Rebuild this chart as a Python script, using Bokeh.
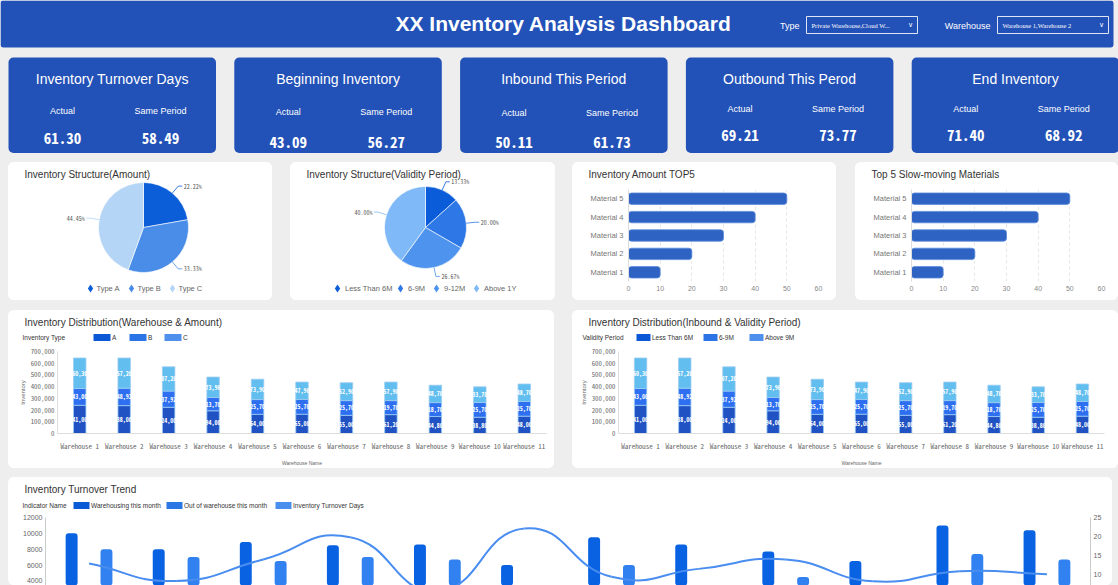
import numpy as np
from bokeh.plotting import figure
from bokeh.layouts import row, column
from bokeh.models import (Range1d, FactorRange, LinearAxis, FixedTicker, Plot,
                          NumeralTickFormatter, Spacer, ColumnDataSource)
from bokeh.core.properties import value
from bokeh.embed import file_html
from bokeh.resources import INLINE

# ---------------- data ----------------
dashboard_title = "XX Inventory Analysis Dashboard"
filter_labels = ["Type", "Warehouse"]
filter_values = ["Private Warehouse,Cloud W...", "Warehouse 1,Warehouse 2"]

kpi_titles = ["Inventory Turnover Days", "Beginning Inventory", "Inbound This Period",
              "Outbound This Perod", "End Inventory"]
kpi_actual = [61.30, 43.09, 50.11, 69.21, 71.40]
kpi_same = [58.49, 56.27, 61.73, 73.77, 68.92]

amount_types = ["Type A", "Type B", "Type C"]
amount_share = [22.22, 33.33, 44.45]
validity_types = ["Less Than 6M", "6-9M", "9-12M", "Above 1Y"]
validity_share = [13.33, 20.00, 26.67, 40.00]

materials = ["Material 1", "Material 2", "Material 3", "Material 4", "Material 5"]
top5_amount = [10, 20, 30, 40, 50]
slow_moving = [10, 20, 30, 40, 50]
material_ticks = [0, 10, 20, 30, 40, 50, 60]

warehouses = ["Warehouse 1", "Warehouse 2", "Warehouse 3", "Warehouse 4", "Warehouse 5",
              "Warehouse 6", "Warehouse 7", "Warehouse 8", "Warehouse 9", "Warehouse 10",
              "Warehouse 11"]
amount_a = [241000, 238000, 224000, 194000, 164000, 165000, 155000, 161200, 144800, 138800, 148000]
amount_b = [143000, 148920, 137920, 113700, 125700, 125700, 125700, 119700, 118700, 125700, 125700]
amount_c = [260300, 257200, 207200, 173900, 173900, 147900, 152900, 157900, 148700, 133700, 148700]
amount_types_short = ["A", "B", "C"]
validity_lt6 = [241000, 238000, 224000, 194000, 164000, 165000, 155000, 161200, 144800, 138800, 148000]
validity_6_9 = [143000, 148920, 137920, 113700, 125700, 125700, 125700, 119700, 118700, 125700, 125700]
validity_gt9 = [260300, 257200, 207200, 173900, 173900, 147900, 152900, 157900, 148700, 133700, 148700]
validity_bands = ["Less Than 6M", "6-9M", "Above 9M"]
inventory_ticks = [0, 100000, 200000, 300000, 400000, 500000, 600000, 700000]

months = ["Jan", "Feb", "Mar", "Apr", "May", "Jun", "Jul", "Aug", "Sep", "Oct", "Nov", "Dec"]
indicator_names = ["Warehousing this month", "Out of warehouse this month", "Inventory Turnover Days"]
inbound_month = [10000, 8000, 8900, 8500, 8600, 6000, 9500, 8600, 7700, 6500, 11000, 10400]
outbound_month = [8000, 7000, 6500, 7000, 6700, 3000, 6000, 3200, 4500, 2800, 7400, 6700]
turnover_days = [12.8, 8.2, 13.9, 19.8, 5.5, 22.1, 9.3, 11.4, 13.9, 8.1, 10.8, 10.0]
qty_ticks = [0, 2000, 4000, 6000, 8000, 10000, 12000]
days_ticks = [0, 5, 10, 15, 20, 25]

# ---------------- style ----------------
BG = "#EEEEEE"
BLUE = "#2251B7"
SANS = "Liberation Sans"
MONO = "'Noto Sans Mono CJK SC', 'Liberation Mono', monospace"
TITLE_C = "#333333"
AXIS_C = "#666666"
PANEL_STYLE = {"border-radius": "6px", "overflow": "hidden", "background-color": "white"}
NO_ALIGN = {"frame_align": False} if "frame_align" in Plot.properties() else {}


def base_fig(w, h, **kw):
    opts = dict(width=w, height=h, toolbar_location=None, output_backend="svg",
                background_fill_color="white", border_fill_color="white",
                outline_line_color=None)
    opts.update(NO_ALIGN)
    opts.update(kw)
    return figure(**opts)


def pixel_fig(w, h, bg="white"):
    """Figure whose data units are its own pixels, y measured from the top."""
    p = base_fig(w, h, x_range=Range1d(0, w), y_range=Range1d(h, 0), min_border=0,
                 x_axis_location=None, y_axis_location=None,
                 background_fill_color=bg, border_fill_color=bg)
    p.xgrid.visible = False
    p.ygrid.visible = False
    return p


def put_text(p, x, y, texts, size, color=TITLE_C, align="left", font=SANS, style="normal"):
    p.text(x=x, y=y, text=texts, text_font=value(font), text_font_size=size,
           text_color=color, text_align=align, text_baseline="middle", text_font_style=style)


def legend_row(p, y, sw_left, sw_w, colors, labels, label_size="6.5px"):
    sw_left = np.asarray(sw_left, float)
    p.quad(left=sw_left, right=sw_left + sw_w, top=y - 3.5, bottom=y + 3.5,
           fill_color=colors, line_color=None)
    put_text(p, sw_left + sw_w + 1.5, [y] * len(labels), labels, label_size)


# ---------------- header + KPI cards ----------------
top = pixel_fig(1118, 162, bg=BG)
top.quad(left=[0], right=[1113], top=[0], bottom=[47], fill_color=BLUE, line_color=None,
         border_radius=3)
put_text(top, [563], [23], [dashboard_title], "21px", "white", "center", style="bold")

box_left = np.array([806.0, 997.0])
box_w = 111
put_text(top, box_left - 7, [25, 25], filter_labels, "9px", "white", "right")
top.quad(left=box_left, right=box_left + box_w, top=[16, 16], bottom=[33, 33],
         fill_color=None, line_color="white", line_alpha=0.85, line_width=1)
put_text(top, box_left + 5, [24.5, 24.5], filter_values, "6.5px", "white", "left",
         font="Liberation Serif")
put_text(top, box_left + 104, [24, 24], ["\u2228", "\u2228"], "7px", "white", "center",
         font="DejaVu Sans")

card_left = 8 + np.arange(len(kpi_titles)) * 225.8
card_w = 207.5
label_y = [110, 111, 112, 108, 108]
value_y = [137, 141, 141.5, 134, 134]
top.quad(left=card_left, right=card_left + card_w, top=57, bottom=152.5,
         fill_color=BLUE, line_color=None, border_radius=5)
put_text(top, card_left + card_w / 2, [78.5] * 5, kpi_titles, "14px", "white", "center")
put_text(top, np.concatenate([card_left + 54, card_left + 152]), label_y + label_y,
         ["Actual"] * 5 + ["Same Period"] * 5, "9px", "white", "center")
put_text(top, np.concatenate([card_left + 54, card_left + 152]), value_y + value_y,
         [f"{v:.2f}" for v in kpi_actual] + [f"{v:.2f}" for v in kpi_same],
         "15px", "white", "center", font=MONO, style="bold")


# ---------------- pies ----------------
def pie_panel(w, title, names, shares, colors, cx, cy, r, marker_x, text_dx):
    h = 138
    p = base_fig(w, h, x_range=Range1d(0, w), y_range=Range1d(0, h), min_border=0,
                 x_axis_location=None, y_axis_location=None)
    p.xgrid.visible = False
    p.ygrid.visible = False
    frac = np.asarray(shares, float) / np.sum(shares)
    cum = np.concatenate([[0.0], np.cumsum(frac)])
    start = np.pi / 2 - 2 * np.pi * cum[:-1]
    end = np.pi / 2 - 2 * np.pi * cum[1:]
    src = ColumnDataSource(dict(name=names, share=shares, start=start, end=end, color=colors))
    p.wedge(x=cx, y=cy, radius=r, start_angle="start", end_angle="end", direction="clock",
            fill_color="color", line_color="white", line_width=0.6, source=src)
    mid = (start + end) / 2
    c, s = np.cos(mid), np.sin(mid)
    side = np.where(c >= 0, 1.0, -1.0)
    ex = cx + (r + 9) * c
    ey = cy + (r + 9) * s
    xs = [[cx + r * ci, exi, exi + 4 * sd] for ci, exi, sd in zip(c, ex, side)]
    ys = [[cy + r * si, eyi, eyi] for si, eyi in zip(s, ey)]
    p.multi_line(xs=xs, ys=ys, line_color=colors, line_width=0.8)
    tsrc = ColumnDataSource(dict(x=ex + 5.5 * side, y=ey, t=[f"{v:.2f}%" for v in shares],
                                 a=["left" if sd > 0 else "right" for sd in side]))
    p.text(x="x", y="y", text="t", text_align="a", text_baseline="middle", source=tsrc,
           text_font=value(MONO), text_font_size="6px", text_color="#555555")
    put_text(p, [16], [h - 12], [title], "10px")
    mx = np.asarray(marker_x, float)
    p.scatter(x=mx, y=[12] * len(names), marker="diamond", size=8, fill_color=colors,
              line_color=None)
    put_text(p, mx + text_dx, [12] * len(names), names, "7.5px", "#666666")
    return column(p, styles=PANEL_STYLE)


pie1 = pie_panel(264, "Inventory Structure(Amount)", amount_types, amount_share,
                 ["#0B5DD8", "#4A8DE8", "#B4D5F6"], 135, 73, 45, [82, 123, 164], 6)
pie2 = pie_panel(265, "Inventory Structure(Validity Period)", validity_types, validity_share,
                 ["#0A5CD8", "#2D78E6", "#4E93EE", "#80B9F7"], 135, 73, 41,
                 [47, 110, 146, 186], 7.5)


# ---------------- horizontal bar panels ----------------
def hbar_panel(w, title, vals, left_b, right_b):
    hdr = pixel_fig(w, 20)
    put_text(hdr, [16], [12], [title], "10px")
    p = base_fig(w, 118, y_range=FactorRange(*materials), x_range=Range1d(0, 60),
                 min_border_left=left_b, min_border_right=right_b, min_border_top=7,
                 min_border_bottom=19)
    p.hbar(y=materials, left=0, right=vals, height=0.62, fill_color="#2E63C3",
           line_color="#5A8ADA", line_width=0.8, border_radius=3)
    p.xaxis.ticker = FixedTicker(ticks=material_ticks)
    p.xaxis.axis_line_color = None
    p.xaxis.major_tick_line_color = None
    p.xaxis.minor_tick_line_color = None
    p.xaxis.major_tick_out = 0
    p.xaxis.major_label_standoff = 4
    p.xaxis.major_label_text_font_size = "7px"
    p.xaxis.major_label_text_color = "#888888"
    p.xaxis.major_label_text_font = SANS
    p.yaxis.axis_line_color = "#DDDDDD"
    p.yaxis.major_tick_line_color = None
    p.yaxis.major_tick_out = 0
    p.yaxis.major_label_standoff = 5
    p.yaxis.major_label_text_font_size = "7.5px"
    p.yaxis.major_label_text_color = "#777777"
    p.yaxis.major_label_text_font = SANS
    p.xgrid.grid_line_color = "#E6E6E6"
    p.xgrid.grid_line_dash = "3 3"
    p.ygrid.grid_line_color = None
    return column(hdr, p, styles=PANEL_STYLE)


bar1 = hbar_panel(264, "Inventory Amount TOP5", top5_amount, 56, 18)
bar2 = hbar_panel(263, "Top 5 Slow-moving Materials", slow_moving, 56, 17)

# ---------------- stacked panels ----------------
stack_colors = ["#2152C4", "#2D6FF0", "#62BEEE"]
legend_colors = ["#0B58D6", "#2A74E6", "#4E90EC"]


def stacked_panel(w, title, legend_title, names, series, left_b, right_b,
                  title_x, lt_x, sw_left, sw_w):
    hdr = pixel_fig(w, 33)
    put_text(hdr, [title_x], [12], [title], "10px")
    put_text(hdr, [lt_x], [27], [legend_title], "6.5px")
    legend_row(hdr, 27, sw_left, sw_w, legend_colors, names)

    p = base_fig(w, 125, x_range=FactorRange(*warehouses), y_range=Range1d(0, 700000),
                 min_border_left=left_b, min_border_right=right_b, min_border_top=8,
                 min_border_bottom=33)
    keys = ["s0", "s1", "s2"]
    data = {"wh": warehouses}
    for k, srs in zip(keys, series):
        data[k] = srs
    src = ColumnDataSource(data)
    p.vbar_stack(keys, x="wh", width=0.28, fill_color=stack_colors,
                 line_color="#9ACBF3", line_width=0.8, source=src)
    base = np.zeros(len(warehouses))
    for srs in series:
        arr = np.asarray(srs, float)
        p.text(x=warehouses, y=base + arr / 2, text=[f"{v:,.0f}" for v in arr],
               text_font=value(MONO), text_font_size="6px", text_font_style="bold",
               text_color="white", text_align="center", text_baseline="middle")
        base = base + arr
    p.yaxis.ticker = FixedTicker(ticks=inventory_ticks)
    p.yaxis.formatter = NumeralTickFormatter(format="0,0")
    p.yaxis.axis_label = "Inventory"
    p.yaxis.axis_label_text_font_size = "6px"
    p.yaxis.axis_label_text_font_style = "normal"
    p.yaxis.axis_label_text_color = AXIS_C
    p.yaxis.axis_label_standoff = 2
    p.yaxis.major_label_text_font = MONO
    p.yaxis.major_label_text_font_size = "6.8px"
    p.yaxis.major_label_text_color = AXIS_C
    p.yaxis.major_label_standoff = 3
    p.yaxis.axis_line_color = "#DDDDDD"
    p.yaxis.major_tick_line_color = None
    p.yaxis.minor_tick_line_color = None
    p.yaxis.major_tick_out = 0
    p.xaxis.axis_label = "Warehouse Name"
    p.xaxis.axis_label_text_font_size = "5px"
    p.xaxis.axis_label_text_font_style = "normal"
    p.xaxis.axis_label_text_color = AXIS_C
    p.xaxis.axis_label_standoff = 6
    p.xaxis.major_label_text_font = MONO
    p.xaxis.major_label_text_font_size = "7px"
    p.xaxis.major_label_text_color = AXIS_C
    p.xaxis.major_label_standoff = 7
    p.xaxis.axis_line_color = "#DDDDDD"
    p.xaxis.major_tick_line_color = None
    p.xaxis.major_tick_out = 0
    p.xgrid.grid_line_color = None
    p.ygrid.grid_line_color = None
    return column(hdr, p, styles=PANEL_STYLE)


stack1 = stacked_panel(546, "Inventory Distribution(Warehouse & Amount)", "Inventory Type",
                       amount_types_short, [amount_a, amount_b, amount_c], 49, 8,
                       16, 14, [85, 121, 156], 17)
stack2 = stacked_panel(546, "Inventory Distribution(Inbound & Validity Period)", "Validity Period",
                       validity_bands, [validity_lt6, validity_6_9, validity_gt9], 46, 14,
                       16, 10, [64, 131, 177], 14)

# ---------------- turnover trend ----------------
n = len(months)
idx = np.arange(n, dtype=float)
trend_hdr = pixel_fig(1104, 34)
put_text(trend_hdr, [16], [12], ["Inventory Turnover Trend"], "10px")
put_text(trend_hdr, [14], [28], ["Indicator Name"], "6.5px")
legend_row(trend_hdr, 28, [65, 158, 267], 16, ["#0A5CD6", "#2B78E4", "#4A8FEE"], indicator_names)

trend = base_fig(1104, 74, x_range=Range1d(-0.5, n - 0.5), y_range=Range1d(3418, 12000),
                 min_border_left=37, min_border_right=22, min_border_top=6, min_border_bottom=0,
                 x_axis_location=None)
trend.extra_y_ranges = {"days": Range1d(7.0, 25.0)}
trend.vbar(x=idx - 0.2, bottom=0, top=inbound_month, width=0.137,
           fill_color="#0862E2", line_color=None, border_radius=3)
trend.vbar(x=idx + 0.2, bottom=0, top=outbound_month, width=0.137,
           fill_color="#3182F0", line_color=None, border_radius=3)

d = np.asarray(turnover_days, float)
prev_d = np.concatenate([[d[0]], d[:-1]])
next_d = np.concatenate([d[1:], [d[-1]]])
prev_x = np.concatenate([[idx[0]], idx[:-1]])
next_x = np.concatenate([idx[1:], [idx[-1]]])
wgt = np.where((idx == 0) | (idx == n - 1), 0.5, 0.25)
tx = (next_x - prev_x) * wgt
ty = (next_d - prev_d) * wgt
trend.bezier(x0=idx[:-1], y0=d[:-1], x1=idx[1:], y1=d[1:],
             cx0=idx[:-1] + tx[:-1], cy0=d[:-1] + ty[:-1],
             cx1=idx[1:] - tx[1:], cy1=d[1:] - ty[1:],
             y_range_name="days", line_color="#4A8DF0", line_width=2)

trend.yaxis.ticker = FixedTicker(ticks=qty_ticks)
trend.add_layout(LinearAxis(y_range_name="days", ticker=FixedTicker(ticks=days_ticks)), "right")
for ax in trend.yaxis:
    ax.axis_line_color = "#CCCCCC"
    ax.major_tick_line_color = None
    ax.minor_tick_line_color = None
    ax.major_tick_out = 0
    ax.major_label_standoff = 3
    ax.major_label_text_font_size = "7px"
    ax.major_label_text_color = AXIS_C
    ax.major_label_text_font = SANS
trend.xgrid.grid_line_color = None
trend.ygrid.grid_line_color = None
trend_panel = column(trend_hdr, trend, styles=PANEL_STYLE)

# ---------------- layout ----------------
rowB = row(Spacer(width=8, height=138), pie1, Spacer(width=18, height=138), pie2,
           Spacer(width=17, height=138), bar1, Spacer(width=19, height=138), bar2,
           styles={"background-color": BG})
rowC = row(Spacer(width=8, height=158), stack1, Spacer(width=18, height=158), stack2,
           styles={"background-color": BG})
rowD = row(Spacer(width=8, height=108), trend_panel, Spacer(width=6, height=108),
           styles={"background-color": BG})
layout = column(top, rowB, Spacer(width=1118, height=10), rowC,
                Spacer(width=1118, height=9), rowD, styles={"background-color": BG})

html = file_html(layout, INLINE, title="XX Inventory Analysis Dashboard")
html = html.replace("<head>", "<head><style>html,body{margin:0;padding:0;background:#EEEEEE;overflow:hidden;}</style>", 1)
open("out.html", "w").write(html)
